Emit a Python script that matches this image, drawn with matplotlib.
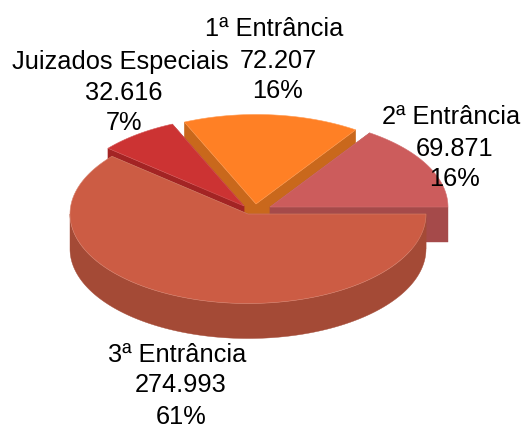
import numpy as np
import matplotlib

matplotlib.use("Agg")
import matplotlib.pyplot as plt
from matplotlib.patches import Polygon

plt.rcParams["font.family"] = ["Liberation Sans", "DejaVu Sans"]

# ordem anti-horaria a partir do leste, como no grafico original
categories = ["2ª Entrância", "1ª Entrância", "Juizados Especiais", "3ª Entrância"]
values = [69871, 72207, 32616, 274993]

W, H = 523, 429
RX, RY = 178, 89.5
DEPTH = 35
LINE_H = 31

# geometria e cores de cada fatia (centro em pixels, ja com o deslocamento)
centers = [(270, 207), (256, 204), (244, 206), (248, 214)]
top_colors = ["#CC5C5C", "#FF8025", "#CC3333", "#CC5C44"]
side_colors = ["#A54A4A", "#C9681C", "#A32424", "#A44A36"]
edge_colors = ["#D27070", "#FF9A50", "#D65A5A", "#D8826E"]
# x do centro e y da linha de base da linha do meio de cada rotulo
# (3a Entrancia um pouco acima para a ultima linha nao encostar na borda)
label_pos = [(454.5, 155.5), (278, 67.5), (124, 99.5), (181, 392.5)]
draw_order = [1, 0, 2, 3]


def arc(cx, cy, a0, a1):
    t = np.radians(np.linspace(a0, a1, 200))
    return np.column_stack([cx + RX * np.cos(t), cy - RY * np.sin(t)])


def draw_slice(ax, center, a0, a1, top, side, edge):
    cx, cy = center
    down = np.array([0, DEPTH])
    # faces de corte
    for a in (a0, a1):
        tip = arc(cx, cy, a, a)[0]
        pts = [(cx, cy), tip, tip + down, (cx, cy + DEPTH)]
        ax.add_patch(Polygon(pts, closed=True, fc=side, ec=side, lw=0.3))
    # parede externa, so a parte voltada para a frente
    lo, hi = max(a0, 180), min(a1, 360)
    if hi > lo:
        rim = arc(cx, cy, lo, hi)
        pts = np.vstack([rim, (rim + down)[::-1]])
        ax.add_patch(Polygon(pts, closed=True, fc=side, ec=side, lw=0.3))
    # tampo
    pts = np.vstack([[(cx, cy)], arc(cx, cy, a0, a1)])
    ax.add_patch(Polygon(pts, closed=True, fc=top, ec=edge, lw=0.4))


def main():
    fig = plt.figure(figsize=(W / 100, H / 100), dpi=100)
    ax = fig.add_axes([0, 0, 1, 1])
    ax.set_xlim(0, W)
    ax.set_ylim(H, 0)
    ax.axis("off")

    total = sum(values)
    edges = np.concatenate([[0], np.cumsum(values) / total * 360])

    for i in draw_order:
        draw_slice(ax, centers[i], edges[i], edges[i + 1], top_colors[i], side_colors[i], edge_colors[i])

    # cada linha do rotulo separada: o nome fica um pouco a esquerda no original
    for name, val, (x, y) in zip(categories, values, label_pos):
        ax.text(x - 3.5, y - LINE_H, name, ha="center", va="baseline", fontsize=18.3)
        ax.text(x, y, f"{val:,}".replace(",", "."), ha="center", va="baseline", fontsize=18.3)
        ax.text(x, y + LINE_H, f"{val / total * 100:.0f}%", ha="center", va="baseline", fontsize=18.3)

    fig.savefig("out.png", dpi=100)


if __name__ == "__main__":
    main()
